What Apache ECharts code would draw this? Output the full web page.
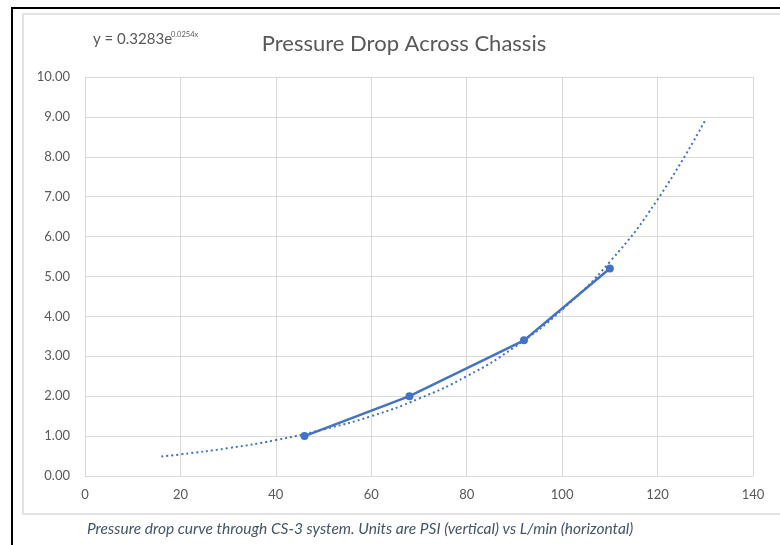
<!DOCTYPE html>
<html lang="en">

<head>
    <meta charset="UTF-8">
    <title>Pressure Drop Across Chassis</title>
    <style>
        * {
            padding: 0;
            margin: 0;
        }
        body {
            background: #fff;
        }
    </style>
    <script type="text/javascript" src="https://cdn.jsdelivr.net/npm/echarts@6/dist/echarts.min.js"></script>
</head>

<body>
    <div id="main" style="width: 780px;height:545px;"></div>
    <script type="text/javascript">
    // measured points (L/min, PSI)
    var flow = [46, 68, 92, 110];
    var pressure = [1.0, 2.0, 3.4, 5.2];

    // dotted trendline
    var trendFlow = [16, 20, 30, 40, 50, 60, 70, 80, 90, 100, 110, 120, 130];
    var trendPressure = [0.49, 0.54, 0.70, 0.90, 1.17, 1.50, 1.94, 2.50, 3.23, 4.17, 5.37, 6.93, 8.92];

    var titleText = 'Pressure Drop Across Chassis';
    var captionText = 'Pressure drop curve through CS-3 system. Units are PSI (vertical) vs L/min (horizontal)';

    var myChart = echarts.init(document.getElementById('main'));

    var pairs = function(xs, ys) {
        return xs.map(function(x, i) {
            return [x, ys[i]];
        });
    };

    var labelColor = '#595959';
    var gridColor = '#d9d9d9';
    var blue = '#4472C4';

    var option = {
        backgroundColor: '#fff',
        animation: false,
        textStyle: {
            fontFamily: 'Lato'
        },
        title: {
            text: titleText,
            left: 399,
            top: 28,
            textAlign: 'center',
            textStyle: {
                color: labelColor,
                fontSize: 22,
                fontWeight: 'normal',
                fontFamily: 'Lato'
            }
        },
        grid: {
            left: 85,
            right: 27,
            top: 77,
            bottom: 69
        },
        xAxis: {
            type: 'value',
            min: 0,
            max: 140,
            interval: 20,
            axisLine: { show: true, lineStyle: { color: gridColor } },
            axisTick: { show: false },
            splitLine: { show: true, lineStyle: { color: gridColor, width: 1 } },
            axisLabel: { color: labelColor, fontSize: 13, margin: 12 }
        },
        yAxis: {
            type: 'value',
            min: 0,
            max: 10,
            interval: 1,
            axisLine: { show: true, lineStyle: { color: gridColor } },
            axisTick: { show: false },
            splitLine: { show: true, lineStyle: { color: gridColor, width: 1 } },
            axisLabel: {
                color: labelColor,
                fontSize: 13,
                margin: 15,
                formatter: function(v) {
                    return v.toFixed(2);
                }
            }
        },
        series: [{
                name: 'trend',
                type: 'line',
                smooth: true,
                showSymbol: false,
                data: pairs(trendFlow, trendPressure),
                lineStyle: { color: blue, width: 2, type: [2, 3] },
                z: 2
            },
            {
                name: 'measured',
                type: 'line',
                data: pairs(flow, pressure),
                symbol: 'circle',
                symbolSize: 8,
                itemStyle: { color: blue },
                lineStyle: { color: blue, width: 2.5 },
                z: 3
            }
        ],
        graphic: [{
                type: 'rect',
                shape: { x: 12, y: 8, width: 800, height: 600 },
                style: { fill: null, stroke: '#000', lineWidth: 2 },
                silent: true
            },
            {
                type: 'rect',
                shape: { x: 23, y: 14, width: 800, height: 500 },
                style: { fill: null, stroke: '#d9d9d9', lineWidth: 1.5 },
                silent: true
            },
            {
                type: 'text',
                left: 93,
                top: 32,
                style: {
                    text: 'y = 0.3283e',
                    fill: labelColor,
                    font: '15px Lato'
                }
            },
            {
                type: 'text',
                left: 171,
                top: 31,
                style: {
                    text: '0.0254x',
                    fill: labelColor,
                    font: '7.5px Lato'
                }
            },
            {
                type: 'text',
                left: 87,
                top: 521,
                style: {
                    text: captionText,
                    fill: '#44546A',
                    font: 'italic 15.5px Lato'
                }
            }
        ]
    };

    myChart.setOption(option);
    </script>
</body>

</html>
